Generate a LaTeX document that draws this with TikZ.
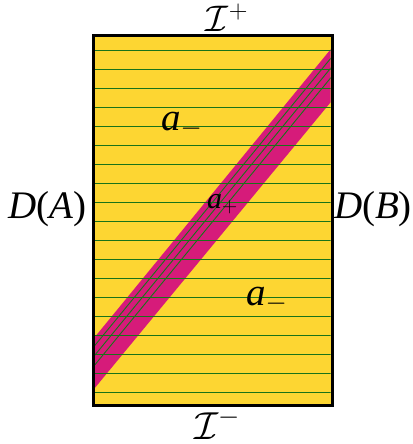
\documentclass[tikz,border=0pt]{standalone}
\usepackage{fix-cm}
\usepackage{fontspec}
\setmainfont{Liberation Serif}
\usetikzlibrary{calc}
\definecolor{bgyellow}{RGB}{253,214,50}
\definecolor{bandmag}{RGB}{214,27,122}
\definecolor{linegreen}{RGB}{25,115,25}
\begin{document}
\begin{tikzpicture}[x=1pt,y=-1pt,
  lab/.style={font=\fontsize{39}{43}\selectfont, inner sep=0pt},
  toplab/.style={font=\fontsize{37}{40}\selectfont, inner sep=0pt},
  sublab/.style={font=\fontsize{30}{33}\selectfont, inner sep=0pt},
  hline/.style={draw=linegreen, line width=1.1pt},
  dline/.style={draw=linegreen, line width=0.9pt},
  frame/.style={draw=black, line width=3pt}]
\useasboundingbox (0,0) rectangle (412,444);
\coordinate (NW) at (93.5,35.5);
\coordinate (SE) at (332,405.8);
\fill[bgyellow] (NW) rectangle (SE);
\begin{scope}
  \clip (95,37) rectangle (330.5,404.3);
  \coordinate (b1) at (94,338);
  \coordinate (b2) at (331.7,48);
  \coordinate (b3) at (331.7,101);
  \coordinate (b4) at (94,389);
  \fill[bandmag] (b1) -- (b2) -- (b3) -- (b4) -- cycle;
  \begin{scope}
    \clip (b1) -- (b2) -- (b3) -- (b4) -- cycle;
    \foreach \d in {7,15,23} {
      \coordinate (dA) at ({94+\d-51},400);
      \coordinate (dB) at ({94+\d+253},30);
      \draw[dline] (dA) -- (dB);
    }
  \end{scope}
  \foreach \i in {0,...,18} {
    \pgfmathsetmacro{\yy}{50.7+18.98*\i}
    \coordinate (hA) at (95,\yy);
    \coordinate (hB) at (330.5,\yy);
    \draw[hline] (hA) -- (hB);
  }
\end{scope}
\draw[frame] (NW) rectangle (SE);
\node[toplab, anchor=base] (iplus) at (227,31.5) {$\mathcal{I}^{+}$};
\node[lab, anchor=base] (iminus) at (217,439) {$\mathcal{I}^{-}$};
\node[lab, anchor=base] (DA) at (47.5,218) {\textit{D}(\textit{A})};
\node[lab, anchor=base] (DB) at (373,218) {\textit{D}(\textit{B})};
\node[lab, anchor=base west] (amup) at (161,130) {\textit{a}$_{-}$};
\node[lab, anchor=base west] (amlow) at (246,305) {\textit{a}$_{-}$};
\node[sublab, anchor=base west] (ap) at (207,208) {\textit{a}$_{+}$};
\end{tikzpicture}
\end{document}
